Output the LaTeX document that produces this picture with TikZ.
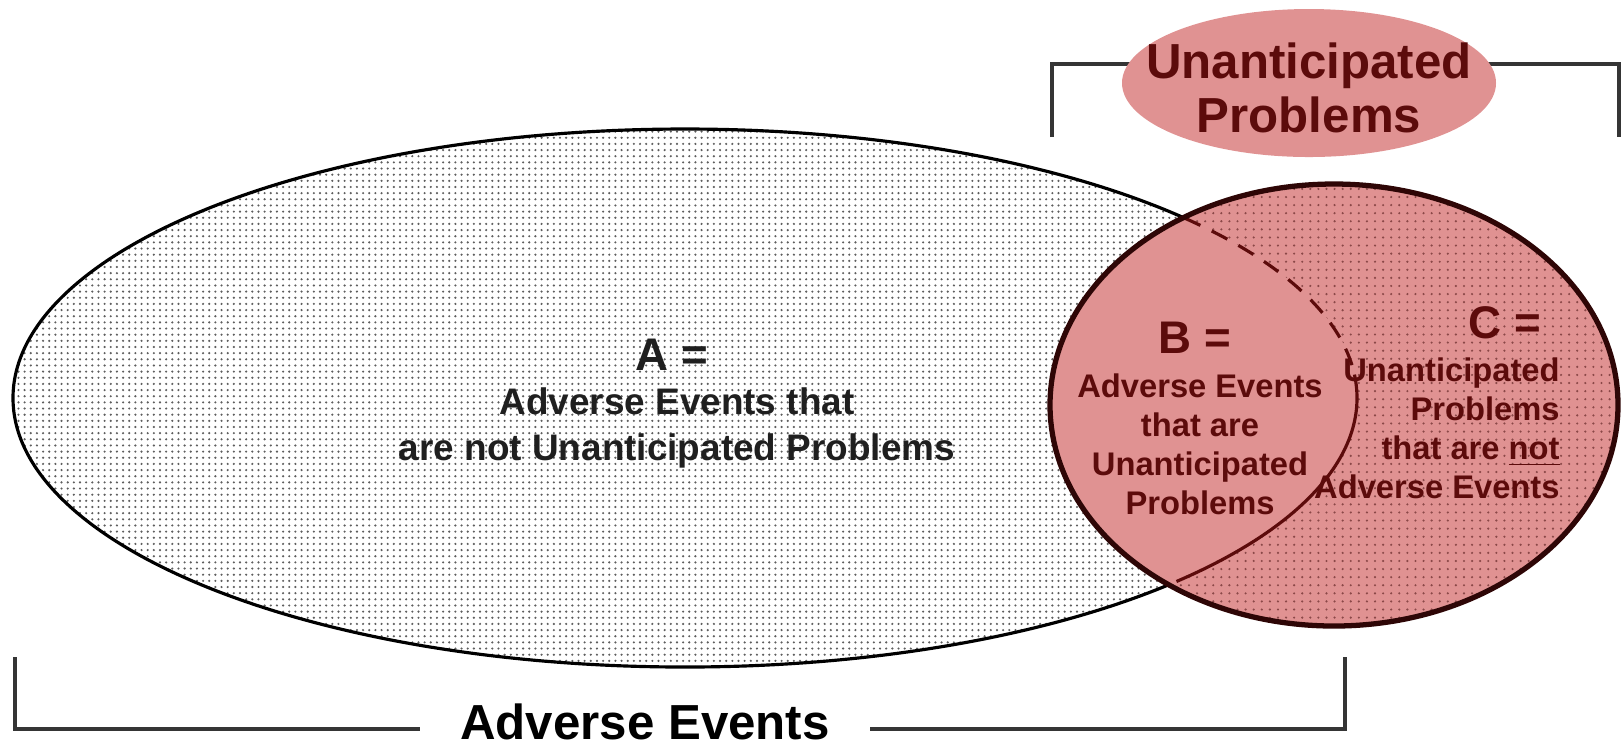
\documentclass[tikz,border=0pt]{standalone}
\usepackage{fontspec}
\setmainfont{Liberation Sans}
\usetikzlibrary{patterns, shapes.geometric, positioning, calc}
\definecolor{RosePink}{HTML}{E09292}
\definecolor{DeepMaroon}{HTML}{5C0B0B}
\definecolor{RimDark}{HTML}{2E0606}
\definecolor{DotGray}{HTML}{5E5E5E}
\definecolor{DotRose}{HTML}{8A4848}
\definecolor{BracketGray}{HTML}{353535}
\pgfdeclarepatternformonly{finedots}{\pgfqpoint{-0.5pt}{-0.5pt}}{\pgfqpoint{0.5pt}{0.5pt}}{\pgfqpoint{1.75pt}{1.75pt}}{\pgfpathcircle{\pgfqpoint{0pt}{0pt}}{0.34pt}\pgfusepath{fill}}
\pgfdeclarepatternformonly{sparsedots}{\pgfqpoint{-0.5pt}{-0.5pt}}{\pgfqpoint{0.5pt}{0.5pt}}{\pgfqpoint{2.3pt}{2.3pt}}{\pgfpathcircle{\pgfqpoint{0pt}{0pt}}{0.34pt}\pgfusepath{fill}}

\begin{document}
\begin{tikzpicture}[x=0.01cm, y=-0.01cm,
    bracketline/.style={draw=BracketGray, line width=0.9pt},
    setletter/.style={font=\fontsize{13}{15}\selectfont\bfseries},
    bigtext/.style={font=\fontsize{10.5}{13.2}\selectfont\bfseries, align=center, text=black!88},
    smalltext/.style={font=\fontsize{9.3}{11.1}\selectfont\bfseries, text=DeepMaroon},
    headtext/.style={font=\fontsize{14}{16.5}\selectfont\bfseries, align=center}]
  \useasboundingbox (0,0) rectangle (1622,747);

  \coordinate (aecen) at (685,398);
  \coordinate (upcen) at (1334,405);
  \coordinate (headcen) at (1309,83);

  \fill[white] (aecen) ellipse [x radius=672, y radius=269];
  \fill[pattern=finedots, pattern color=DotGray] (aecen) ellipse [x radius=672, y radius=269];
  \draw[line width=0.9pt] (aecen) ellipse [x radius=672, y radius=269];

  \fill[RosePink] (upcen) ellipse [x radius=284, y radius=221];
  \fill[pattern=sparsedots, pattern color=DotRose] (upcen) ellipse [x radius=284, y radius=221];
  \begin{scope}
    \clip (upcen) ellipse [x radius=284, y radius=221];
    \fill[RosePink] (aecen) ellipse [x radius=672, y radius=269];
  \end{scope}
  \draw[DeepMaroon, line width=0.9pt, dash pattern=on 5pt off 3.6pt] ([shift={(aecen)}]-42:672 and 269) arc[start angle=-42, end angle=-5, x radius=672, y radius=269];
  \draw[DeepMaroon, line width=0.9pt] ([shift={(aecen)}]-5:672 and 269) arc[start angle=-5, end angle=43, x radius=672, y radius=269];
  \draw[RimDark, line width=1.5pt] (upcen) ellipse [x radius=284, y radius=221];

  \coordinate (topL) at (1052,137);
  \coordinate (topR) at (1619,137);
  \draw[bracketline] (topL) -- ++(0,-73) -| (topR);
  \fill[RosePink] (headcen) ellipse [x radius=187, y radius=74];
  \node[headtext, text=DeepMaroon] (upprob) at (1309,88) {Unanticipated\\[-1pt]Problems};

  \coordinate (botL) at (15,657);
  \coordinate (botR) at (1345,657);
  \draw[bracketline] (botL) -- ++(0,72) -| (botR);
  \node[headtext, fill=white, inner xsep=0.4cm, inner ysep=0pt] (advev) at (645,722) {Adverse Events};

  \node[setletter, text=black!88] (alabel) at (672,355) {A =};
  \node[bigtext] (atext) at (677,428) {Adverse Events that\\are not Unanticipated Problems};

  \node[setletter, text=DeepMaroon] (blabel) at (1195,338) {B =};
  \node[smalltext, align=center] (btext) at (1200,444) {Adverse Events\\that are\\Unanticipated\\Problems};

  \node[setletter, text=DeepMaroon] (clabel) at (1505,323) {C =};
  \node[smalltext, align=right, anchor=east] (ctext) at (1572,428) {Unanticipated\\Problems\\that are \underline{not}\\Adverse Events};
\end{tikzpicture}
\end{document}
